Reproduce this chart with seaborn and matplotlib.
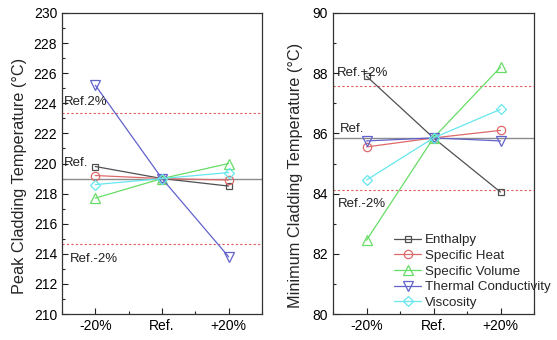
import matplotlib
matplotlib.use("Agg")
import matplotlib.pyplot as plt
from matplotlib.ticker import MultipleLocator
import seaborn as sns
import pandas as pd

# ---- data ----
categories = ["-20%", "Ref.", "+20%"]
series_names = ["Enthalpy", "Specific Heat", "Specific Volume", "Thermal Conductivity", "Viscosity"]

peak_enthalpy = [219.8, 219.0, 218.5]
peak_spec_heat = [219.2, 219.0, 218.9]
peak_spec_volume = [217.7, 219.0, 220.0]
peak_thermal_cond = [225.2, 219.0, 213.8]
peak_viscosity = [218.6, 219.0, 219.4]
peak_ref = 219.0

min_enthalpy = [87.9, 85.85, 84.05]
min_spec_heat = [85.55, 85.85, 86.1]
min_spec_volume = [82.45, 85.85, 88.2]
min_thermal_cond = [85.75, 85.85, 85.75]
min_viscosity = [84.45, 85.85, 86.8]
min_ref = 85.85

colors = ["#505050", "#dd6a6a", "#66dd66", "#6262cc", "#66e6ee"]
markers = ["s", "o", "^", "v", "D"]
msizes = [5, 6, 6.5, 6.5, 5]

sns.set_style("ticks")
plt.rcParams["font.family"] = ["Liberation Sans", "DejaVu Sans"]

fig = plt.figure(figsize=(5.57, 3.40), dpi=100)
axL = fig.add_axes([62 / 557, 26 / 340, 200 / 557, 301 / 340])
axR = fig.add_axes([333 / 557, 26 / 340, 201 / 557, 301 / 340])


def draw(ax, values_list, ref, ylim, major, minor, ylabel, label_x, texts, legend):
    xs = list(range(len(categories)))
    ax.axhline(ref, color="#8c8c8c", lw=1.0, zorder=1)
    ax.axhline(ref * 1.02, color="#e05a5a", lw=0.8, ls=(0, (2, 2)), zorder=1)
    ax.axhline(ref * 0.98, color="#e05a5a", lw=0.8, ls=(0, (2, 2)), zorder=1)
    for name, vals, c, m, ms in zip(series_names, values_list, colors, markers, msizes):
        df = pd.DataFrame({"x": xs, "y": vals})
        sns.lineplot(data=df, x="x", y="y", ax=ax, color=c, marker=m, markersize=ms,
                     markerfacecolor="none", markeredgecolor=c, markeredgewidth=0.9,
                     lw=0.9, label=name, legend=False, zorder=3)
    ax.set_xlim(-0.5, 2.5)
    ax.set_ylim(*ylim)
    ax.set_xticks(xs)
    ax.set_xticklabels(categories)
    ax.xaxis.set_minor_locator(MultipleLocator(0.5))
    ax.yaxis.set_major_locator(MultipleLocator(major))
    ax.yaxis.set_minor_locator(MultipleLocator(minor))
    ax.tick_params(axis="both", which="major", direction="in", length=4, width=0.8,
                   labelsize=10, top=False, right=False, colors="#222222", labelcolor="black")
    ax.tick_params(axis="both", which="minor", direction="in", length=2.5, width=0.8,
                   top=False, right=False)
    for s in ax.spines.values():
        s.set_visible(True)
        s.set_linewidth(0.9)
        s.set_color("#333333")
    ax.set_xlabel("")
    ax.set_ylabel(ylabel, fontsize=11.7)
    ax.yaxis.set_label_coords(label_x, 0.46)
    for (tx, ty, t) in texts:
        ax.text(tx, ty, t, fontsize=9.5, va="center", ha="left", color="#222222")
    if legend:
        ax.legend(loc="lower left", bbox_to_anchor=(0.265, -0.01), frameon=False,
                  fontsize=9.6, handlelength=2.0, handletextpad=0.3, labelspacing=0.25,
                  borderaxespad=0.2)


draw(axL, [peak_enthalpy, peak_spec_heat, peak_spec_volume, peak_thermal_cond, peak_viscosity],
     peak_ref, (210, 230), 2, 1, "Peak Cladding Temperature (°C)", -0.175,
     [(-0.47, 224.1, "Ref.2%"), (-0.47, 220.0, "Ref."), (-0.38, 213.65, "Ref.-2%")], False)

draw(axR, [min_enthalpy, min_spec_heat, min_spec_volume, min_thermal_cond, min_viscosity],
     min_ref, (80, 90), 2, 1, "Minimum Cladding Temperature (°C)", -0.15,
     [(-0.44, 88.0, "Ref.+2%"), (-0.39, 86.15, "Ref."), (-0.42, 83.65, "Ref.-2%")], True)

fig.savefig("out.png", dpi=100)
